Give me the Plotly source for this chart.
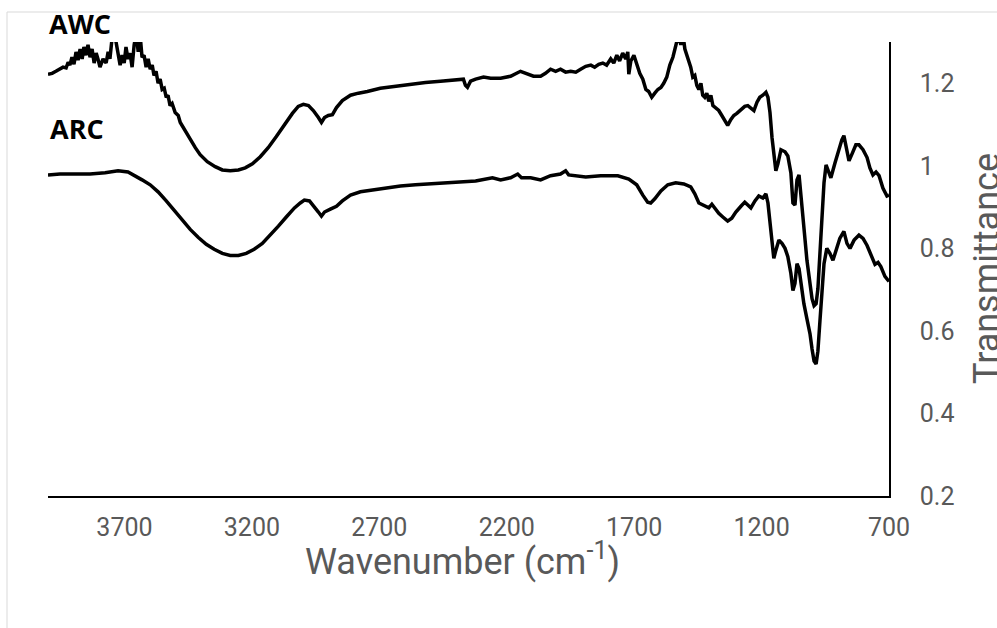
import plotly.graph_objects as go

# ---- Data ----
awc_wavenumber = [4000, 3984, 3969, 3953, 3941, 3929, 3921, 3914, 3906, 3898, 3890, 3882, 3874, 3866,
                  3859, 3851, 3843, 3835, 3827, 3819, 3811, 3804, 3796, 3784, 3772, 3764, 3757, 3749,
                  3741, 3733, 3725, 3717, 3709, 3701, 3694, 3686, 3678, 3670, 3662, 3654, 3646, 3639,
                  3631, 3623, 3615, 3607, 3599, 3591, 3584, 3576, 3568, 3560, 3552, 3544, 3536, 3529,
                  3521, 3513, 3501, 3489, 3481, 3462, 3442, 3422, 3403, 3375, 3344, 3316, 3285, 3253,
                  3226, 3198, 3167, 3136, 3104, 3073, 3041, 3018, 2998, 2978, 2959, 2939, 2927, 2915,
                  2900, 2884, 2868, 2845, 2813, 2782, 2747, 2696, 2637, 2578, 2519, 2460, 2401, 2370,
                  2362, 2354, 2342, 2322, 2291, 2263, 2224, 2185, 2146, 2118, 2095, 2067, 2048, 2028,
                  2008, 1989, 1969, 1949, 1929, 1910, 1890, 1870, 1855, 1839, 1823, 1808, 1792, 1780,
                  1768, 1757, 1745, 1733, 1725, 1721, 1713, 1701, 1690, 1678, 1666, 1654, 1643, 1631,
                  1619, 1607, 1595, 1584, 1572, 1560, 1548, 1540, 1533, 1525, 1517, 1509, 1501, 1493,
                  1486, 1478, 1470, 1462, 1454, 1446, 1438, 1431, 1423, 1415, 1407, 1399, 1391, 1380,
                  1368, 1356, 1344, 1333, 1321, 1309, 1297, 1281, 1266, 1254, 1242, 1230, 1218, 1207,
                  1195, 1183, 1175, 1167, 1159, 1152, 1144, 1136, 1124, 1108, 1097, 1085, 1077, 1069,
                  1061, 1053, 1045, 1034, 1022, 1010, 1002, 994, 986, 979, 971, 963, 955, 947, 940,
                  928, 912, 896, 885, 877, 869, 857, 845, 830, 818, 802, 786, 775, 763, 751, 739, 724,
                  708, 700]
awc_transmittance = [1.222, 1.224, 1.229, 1.234, 1.239, 1.237, 1.251, 1.244, 1.263, 1.246, 1.276, 1.256,
                     1.283, 1.259, 1.288, 1.268, 1.293, 1.263, 1.283, 1.249, 1.273, 1.259, 1.239, 1.259,
                     1.249, 1.276, 1.259, 1.307, 1.32, 1.30, 1.276, 1.244, 1.268, 1.249, 1.288, 1.259,
                     1.273, 1.239, 1.293, 1.32, 1.276, 1.32, 1.263, 1.268, 1.239, 1.259, 1.234, 1.244,
                     1.219, 1.229, 1.200, 1.210, 1.185, 1.188, 1.166, 1.171, 1.146, 1.151, 1.129, 1.122,
                     1.105, 1.085, 1.063, 1.044, 1.027, 1.010, 0.998, 0.990, 0.988, 0.990, 0.995, 1.005,
                     1.022, 1.044, 1.071, 1.100, 1.127, 1.144, 1.149, 1.146, 1.134, 1.117, 1.105, 1.117,
                     1.122, 1.124, 1.141, 1.158, 1.171, 1.176, 1.180, 1.188, 1.193, 1.198, 1.202, 1.205,
                     1.207, 1.210, 1.195, 1.190, 1.205, 1.210, 1.215, 1.212, 1.212, 1.217, 1.229, 1.222,
                     1.217, 1.217, 1.224, 1.234, 1.229, 1.234, 1.227, 1.229, 1.227, 1.234, 1.241, 1.244,
                     1.239, 1.246, 1.249, 1.244, 1.259, 1.249, 1.268, 1.254, 1.273, 1.259, 1.276, 1.222,
                     1.254, 1.268, 1.244, 1.224, 1.210, 1.185, 1.180, 1.166, 1.176, 1.185, 1.190, 1.200,
                     1.215, 1.244, 1.263, 1.283, 1.300, 1.32, 1.293, 1.32, 1.283, 1.268, 1.251, 1.239,
                     1.215, 1.219, 1.195, 1.185, 1.200, 1.171, 1.166, 1.176, 1.156, 1.171, 1.146, 1.141,
                     1.134, 1.122, 1.107, 1.098, 1.112, 1.122, 1.127, 1.137, 1.144, 1.146, 1.141, 1.134,
                     1.154, 1.166, 1.171, 1.178, 1.166, 1.129, 1.068, 1.020, 0.988, 1.005, 1.039, 1.034,
                     1.024, 0.983, 0.910, 0.905, 0.966, 0.978, 0.922, 0.837, 0.771, 0.715, 0.678, 0.661,
                     0.666, 0.702, 0.788, 0.885, 0.959, 1.002, 0.990, 0.971, 1.007, 1.044, 1.063, 1.073,
                     1.044, 1.012, 1.029, 1.051, 1.051, 1.039, 1.020, 0.995, 0.978, 0.985, 0.976, 0.946,
                     0.927, 0.929]

arc_wavenumber = [4000, 3953, 3894, 3835, 3776, 3725, 3686, 3658, 3631, 3599, 3568, 3536, 3505, 3474,
                  3442, 3411, 3379, 3348, 3316, 3285, 3253, 3222, 3191, 3159, 3128, 3096, 3065, 3033,
                  3010, 2994, 2974, 2955, 2939, 2927, 2915, 2892, 2868, 2845, 2813, 2774, 2735, 2676,
                  2617, 2558, 2499, 2440, 2381, 2322, 2256, 2224, 2185, 2157, 2142, 2106, 2067, 2028,
                  1989, 1969, 1957, 1929, 1890, 1831, 1764, 1721, 1690, 1666, 1647, 1635, 1619, 1595,
                  1568, 1537, 1505, 1478, 1462, 1446, 1423, 1407, 1395, 1384, 1368, 1352, 1333, 1317,
                  1301, 1281, 1266, 1254, 1242, 1226, 1211, 1195, 1183, 1175, 1167, 1159, 1152, 1144,
                  1132, 1120, 1108, 1097, 1085, 1077, 1069, 1061, 1053, 1045, 1034, 1022, 1010, 1002,
                  994, 986, 979, 971, 963, 955, 944, 932, 920, 908, 893, 877, 865, 853, 837, 818, 802,
                  786, 771, 755, 743, 732, 716, 700]
arc_transmittance = [0.978, 0.980, 0.980, 0.980, 0.983, 0.988, 0.985, 0.976, 0.966, 0.954, 0.937, 0.915,
                     0.893, 0.868, 0.846, 0.827, 0.810, 0.798, 0.788, 0.783, 0.783, 0.788, 0.798, 0.812,
                     0.832, 0.854, 0.876, 0.898, 0.910, 0.917, 0.915, 0.902, 0.888, 0.878, 0.888, 0.895,
                     0.902, 0.915, 0.929, 0.937, 0.941, 0.946, 0.951, 0.954, 0.956, 0.959, 0.961, 0.963,
                     0.971, 0.966, 0.971, 0.980, 0.971, 0.971, 0.966, 0.976, 0.980, 0.988, 0.978, 0.976,
                     0.973, 0.976, 0.976, 0.968, 0.954, 0.929, 0.912, 0.910, 0.920, 0.939, 0.954, 0.959,
                     0.956, 0.949, 0.932, 0.910, 0.902, 0.898, 0.907, 0.898, 0.885, 0.876, 0.866, 0.873,
                     0.888, 0.902, 0.912, 0.905, 0.898, 0.915, 0.927, 0.922, 0.932, 0.910, 0.861, 0.805,
                     0.776, 0.795, 0.820, 0.812, 0.800, 0.780, 0.739, 0.698, 0.715, 0.763, 0.751, 0.715,
                     0.666, 0.629, 0.593, 0.556, 0.527, 0.520, 0.551, 0.624, 0.702, 0.763, 0.800, 0.788,
                     0.771, 0.795, 0.824, 0.841, 0.812, 0.800, 0.820, 0.832, 0.824, 0.807, 0.785, 0.761,
                     0.766, 0.756, 0.732, 0.720]

x_tick_values = [3700, 3200, 2700, 2200, 1700, 1200, 700]
y_tick_values = [0.2, 0.4, 0.6, 0.8, 1.0, 1.2]
series_labels = ["AWC", "ARC"]

# ---- Layout geometry (pixels) ----
W, H = 997, 628
L, R, T, B = 48, 889, 42, 496


def px(xp):
    return (xp - L) / (R - L)


def py(yp):
    return (B - yp) / (B - T)


fig = go.Figure()
fig.add_trace(go.Scatter(x=awc_wavenumber, y=awc_transmittance, mode="lines",
                         line=dict(color="black", width=3.5), name=series_labels[0],
                         showlegend=False))
fig.add_trace(go.Scatter(x=arc_wavenumber, y=arc_transmittance, mode="lines",
                         line=dict(color="black", width=3.5), name=series_labels[1],
                         showlegend=False))

grey = "#595959"
fig.update_layout(
    width=W, height=H,
    margin=dict(l=L, r=W - R, t=T, b=H - B, pad=0),
    paper_bgcolor="white", plot_bgcolor="white",
    font=dict(family="Roboto", color=grey),
    xaxis=dict(range=[4000, 700], tickvals=x_tick_values,
               ticktext=[str(v) for v in x_tick_values],
               showgrid=False, zeroline=False, showline=True, linecolor="black",
               linewidth=1.5, ticks="", tickfont=dict(family="Roboto", size=25, color=grey),
               ticklabelstandoff=8),
    yaxis=dict(range=[0.2, 1.3], tickvals=y_tick_values, side="right",
               showgrid=False, zeroline=False, showline=True, linecolor="black",
               linewidth=1.5, ticks="", tickfont=dict(family="Roboto", size=25, color=grey),
               ticklabelstandoff=24),
)

# Axis titles
fig.add_annotation(xref="paper", yref="paper", x=px(462), y=py(559),
                   text="Wavenumber (cm<sup>-1</sup>)", showarrow=False,
                   font=dict(family="Roboto", size=36, color=grey),
                   xanchor="center", yanchor="middle")
fig.add_annotation(xref="paper", yref="paper", x=px(987), y=py(269),
                   text="Transmittance", showarrow=False, textangle=-90,
                   font=dict(family="Roboto", size=36, color=grey),
                   xanchor="center", yanchor="middle")

# Series labels
fig.add_annotation(xref="paper", yref="paper", x=px(80), y=py(24),
                   text="<b>%s</b>" % series_labels[0], showarrow=False,
                   font=dict(family="Open Sans", size=27, color="black"),
                   xanchor="center", yanchor="middle")
fig.add_annotation(xref="paper", yref="paper", x=px(77), y=py(128),
                   text="<b>%s</b>" % series_labels[1], showarrow=False,
                   font=dict(family="Open Sans", size=27, color="black"),
                   xanchor="center", yanchor="middle")

# Light chart-area frame
fig.add_shape(type="line", xref="paper", yref="paper", x0=px(7), x1=px(7), y0=py(12), y1=py(640),
              line=dict(color="#d9d9d9", width=1))
fig.add_shape(type="line", xref="paper", yref="paper", x0=px(7), x1=px(1010), y0=py(12), y1=py(12),
              line=dict(color="#d9d9d9", width=1))

fig.write_html("out.html", config={"displayModeBar": False},
               post_script="document.body.style.margin='0px';document.body.style.overflow='hidden';")
